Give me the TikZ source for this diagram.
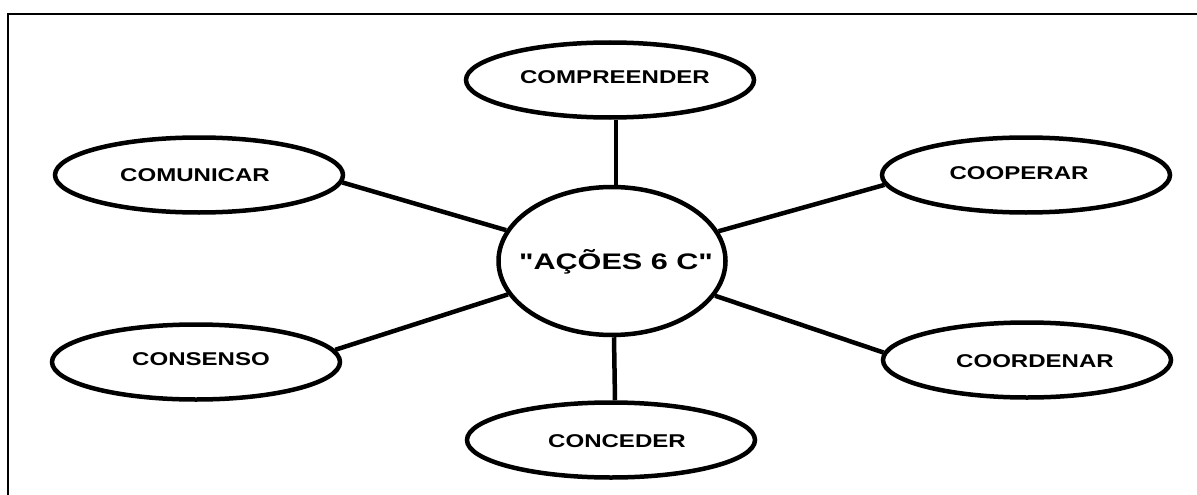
\documentclass[tikz,border=0pt]{standalone}
\usepackage{fontspec}
\setmainfont{Liberation Sans}
\newfontfamily\hubfont{Liberation Sans}
\usepackage{graphicx}
\usetikzlibrary{shapes.geometric}
\tikzset{
  bubble/.style={ellipse, draw=black, fill=white, line width=4.5pt, inner sep=0pt,
                 minimum width=288pt, minimum height=75pt},
  hub/.style={ellipse, draw=black, fill=white, line width=4.5pt, inner sep=0pt,
              minimum width=227pt, minimum height=148pt},
  lbl/.style={inner sep=0pt, font=\fontsize{18.5}{20}\selectfont\bfseries},
  hublbl/.style={inner sep=0pt, font=\hubfont\fontsize{22.5}{24}\selectfont\bfseries},
  link/.style={draw=black, line width=4.5pt},
  frame/.style={draw=black, line width=2pt}
}
\newcommand{\wide}[1]{\scalebox{1.3}[1]{#1}}
\begin{document}
\begin{tikzpicture}[x=1pt, y=-1pt]
  \useasboundingbox (0,0) rectangle (1197,495);
  \draw[frame] (1197,14) -- (8,14) -- (8,495);

  % bubbles
  \node[hub]    (c)     at (612,261) {};
  \node[bubble] (comp)  at (610,80)  {};
  \node[bubble] (comm)  at (199,175) {};
  \node[bubble] (coop)  at (1026,175) {};
  \node[bubble] (cons)  at (196,362) {};
  \node[bubble] (coord) at (1027,360) {};
  \node[bubble] (conc)  at (611,440) {};

  % connectors
  \draw[link] ([xshift=6pt]comp.south) -- ([xshift=4pt]c.north);
  \draw[link] ([xshift=2pt]c.south) -- ([xshift=4pt]conc.north);
  \draw[link] (comm.-3) -- (c);
  \draw[link] (coop.184) -- (c);
  \draw[link] (cons.5) -- (c);
  \draw[link] (coord.177) -- (c);

  % labels
  \node[hublbl] (c-t)     at (616,262) {\scalebox{1.36}[1]{\textquotedbl AÇÕES 6 C\textquotedbl}};
  \node[lbl]    (comp-t)  at (615,77)  {\wide{COMPREENDER}};
  \node[lbl]    (comm-t)  at (195,175) {\wide{COMUNICAR}};
  \node[lbl]    (coop-t)  at (1019,173) {\wide{COOPERAR}};
  \node[lbl]    (cons-t)  at (201,359) {\wide{CONSENSO}};
  \node[lbl]    (coord-t) at (1035,361) {\wide{COORDENAR}};
  \node[lbl]    (conc-t)  at (617,441) {\wide{CONCEDER}};
\end{tikzpicture}
\end{document}
